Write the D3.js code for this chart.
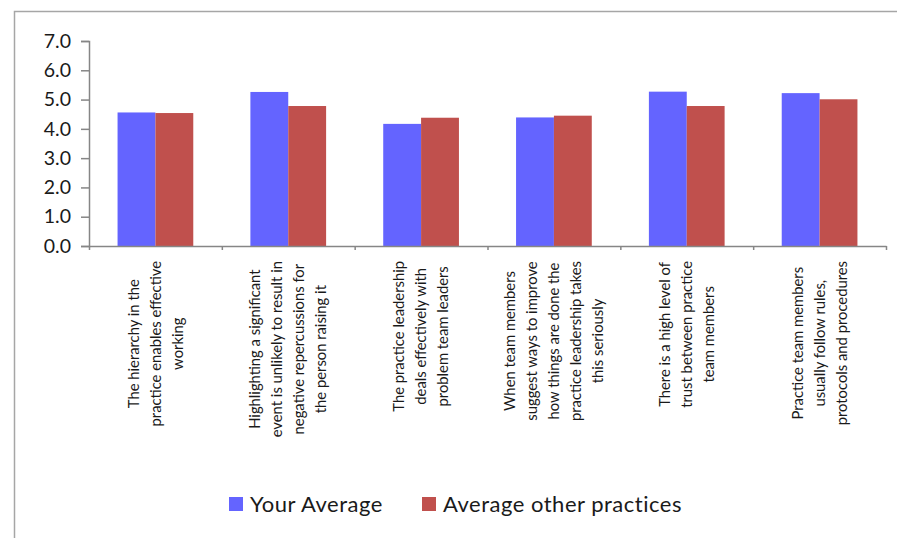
<!DOCTYPE html>
<html>
<head>
<meta charset="utf-8">
<script src="https://cdn.jsdelivr.net/npm/d3@7"></script>
<style>
  html, body { margin: 0; padding: 0; background: #fff; }
  svg { display: block; }
  text { font-family: Lato, "Open Sans", sans-serif; fill: #1a1a1a; }
</style>
</head>
<body>
<svg id="chart" width="897" height="538"></svg>
<script>
// Survey statements (one label per category, pre-broken into lines)
const categories = [
  ["The hierarchy in the", "practice enables effective", "working"],
  ["Highlighting a significant", "event is unlikely to result in", "negative repercussions for", "the person raising it"],
  ["The practice leadership", "deals effectively with", "problem team leaders"],
  ["When team members", "suggest ways to improve", "how things are done the", "practice leadership takes", "this seriously"],
  ["There is a high level of", "trust between practice", "team members"],
  ["Practice team members", "usually follow rules,", "protocols and procedures"]
];
const yourAverage   = [4.56, 5.26, 4.17, 4.39, 5.27, 5.22];
const otherAverage  = [4.54, 4.78, 4.38, 4.45, 4.78, 5.01];
const seriesNames   = ["Your Average", "Average other practices"];
const seriesColors  = ["#6464FF", "#C0504D"];
const yTicks        = [0, 1, 2, 3, 4, 5, 6, 7];

const svg = d3.select("#chart");

// outer frame (top and left edges visible)
svg.append("rect")
  .attr("x", 14.5).attr("y", 11.5)
  .attr("width", 1000).attr("height", 1000)
  .attr("fill", "none").attr("stroke", "#a6a6a6").attr("stroke-width", 1.5);

const plot = { left: 89, right: 886, top: 41, bottom: 246 };

const x0 = d3.scaleBand()
  .domain(d3.range(categories.length))
  .range([plot.left, plot.right])
  .paddingInner(0.43).paddingOuter(0.215);
const x1 = d3.scaleBand()
  .domain([0, 1])
  .range([0, x0.bandwidth()]);
const y = d3.scaleLinear().domain([0, 7]).range([plot.bottom, plot.top]);

// bars
const values = [yourAverage, otherAverage];
const groups = svg.append("g").selectAll("g")
  .data(categories.map((c, i) => i))
  .join("g")
  .attr("transform", i => `translate(${x0(i)},0)`);
groups.selectAll("rect")
  .data(i => [0, 1].map(s => ({ s, v: values[s][i] })))
  .join("rect")
  .attr("x", d => x1(d.s))
  .attr("width", x1.bandwidth())
  .attr("y", d => y(d.v))
  .attr("height", d => y(0) - y(d.v))
  .attr("fill", d => seriesColors[d.s]);

// y axis
const yAxis = svg.append("g")
  .attr("transform", `translate(${plot.left},0)`)
  .call(d3.axisLeft(y).tickValues(yTicks).tickFormat(d3.format(".1f")).tickSize(8).tickPadding(10));
yAxis.select(".domain").attr("stroke", "#868686").attr("stroke-width", 1.5);
yAxis.selectAll(".tick line").attr("stroke", "#868686").attr("stroke-width", 1.5);
yAxis.selectAll(".tick text")
  .attr("font-size", 19.5).attr("fill", "#111")
  .style("font-family", "Lato, sans-serif");

// x axis baseline with category boundary ticks
const bounds = d3.range(categories.length + 1).map(i => plot.left + i * (plot.right - plot.left) / categories.length);
const xScaleBounds = d3.scaleLinear().domain([plot.left, plot.right]).range([plot.left, plot.right]);
const xAxis = svg.append("g")
  .attr("transform", `translate(0,${plot.bottom})`)
  .call(d3.axisBottom(xScaleBounds).tickValues(bounds).tickSize(4).tickSizeOuter(0).tickFormat(""));
xAxis.select(".domain").attr("stroke", "#868686").attr("stroke-width", 1.5);
xAxis.selectAll(".tick line").attr("stroke", "#868686").attr("stroke-width", 1.5);

// rotated, centred multi-line category labels
const lineH = 22;
const labelTop = 261;
categories.forEach((lines, i) => {
  const cx = x0(i) + x0.bandwidth() / 2;
  const g = svg.append("g")
    .attr("transform", `translate(${cx},${labelTop}) rotate(-90)`);
  const texts = g.selectAll("text")
    .data(lines)
    .join("text")
    .attr("font-size", 14.8)
    .attr("text-anchor", "middle")
    .attr("dy", "0.35em")
    .attr("y", (d, k) => (k - (lines.length - 1) / 2) * lineH)
    .text(d => d);
  const maxLen = d3.max(texts.nodes(), n => n.getComputedTextLength());
  texts.attr("x", -maxLen / 2);
});

// legend
const legend = svg.append("g").attr("transform", "translate(229,497)");
const legendX = [0, 193];
seriesNames.forEach((name, s) => {
  const item = legend.append("g").attr("transform", `translate(${legendX[s]},0)`);
  item.append("rect").attr("width", 14).attr("height", 14).attr("fill", seriesColors[s]);
  item.append("text").attr("x", 21).attr("y", 7).attr("dy", "0.35em")
    .attr("font-size", 22).attr("letter-spacing", 0.5).text(name);
});
</script>
</body>
</html>
